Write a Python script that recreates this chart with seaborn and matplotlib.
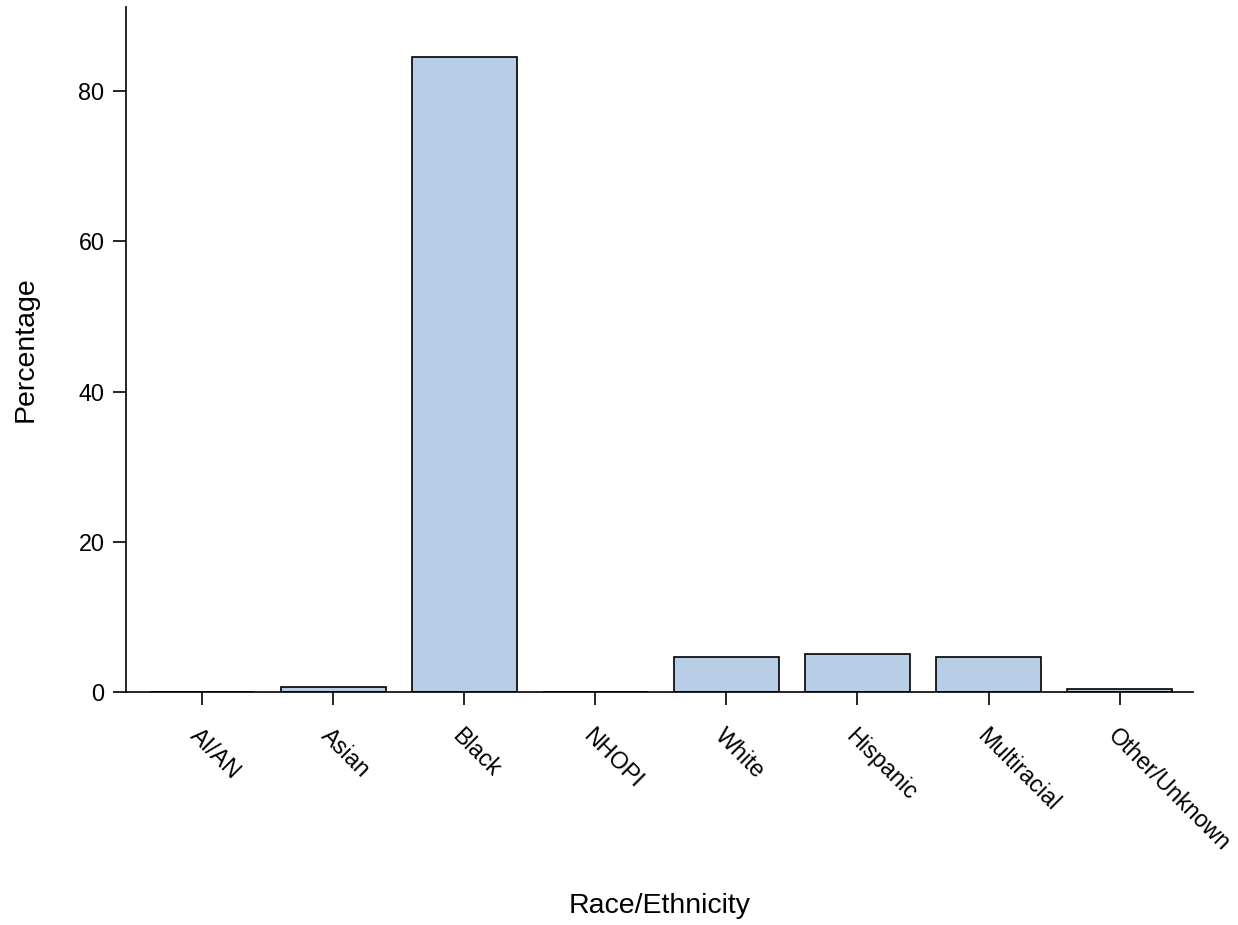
import pandas as pd
import matplotlib
matplotlib.use('Agg')
import matplotlib.pyplot as plt
import seaborn as sns

# 데이터
groups = ['AI/AN', 'Asian', 'Black', 'NHOPI', 'White', 'Hispanic', 'Multiracial', 'Other/Unknown']
pct = [0.0, 0.65, 84.6, 0.0, 4.7, 5.0, 4.7, 0.35]

df = pd.DataFrame({'Race/Ethnicity': groups, 'Percentage': pct})

sns.set_style('ticks')
plt.rcParams['font.family'] = ['Liberation Sans', 'DejaVu Sans']

fig = plt.figure(figsize=(12.38, 9.25), dpi=100)
ax = fig.add_axes([0.1018, 0.2519, 0.8619, 0.7405])

sns.barplot(data=df, x='Race/Ethnicity', y='Percentage', ax=ax,
            color='#b8cee6', saturation=1, width=0.8,
            edgecolor='black', linewidth=1.2)

ax.set_xlim(-0.58, 7.56)
ax.set_ylim(0, 91.2)
ax.set_yticks([0, 20, 40, 60, 80])
sns.despine(ax=ax)
for sp in ['left', 'bottom']:
    ax.spines[sp].set_linewidth(1.2)
    ax.spines[sp].set_color('black')

ax.tick_params(axis='both', length=9.5, width=1.2, color='black',
               labelsize=16.8, labelcolor='black', direction='out')
ax.tick_params(axis='y', pad=6)
ax.tick_params(axis='x', pad=14)
plt.setp(ax.get_xticklabels(), rotation=-45, ha='left', va='top',
         rotation_mode='anchor')

ax.set_xlabel('Race/Ethnicity', fontsize=20.5, color='black')
ax.set_ylabel('Percentage', fontsize=20.5, color='black')
ax.xaxis.set_label_coords(0.5, -0.293)
ax.yaxis.set_label_coords(-0.082, 0.5)

fig.savefig('out.png', dpi=100)
